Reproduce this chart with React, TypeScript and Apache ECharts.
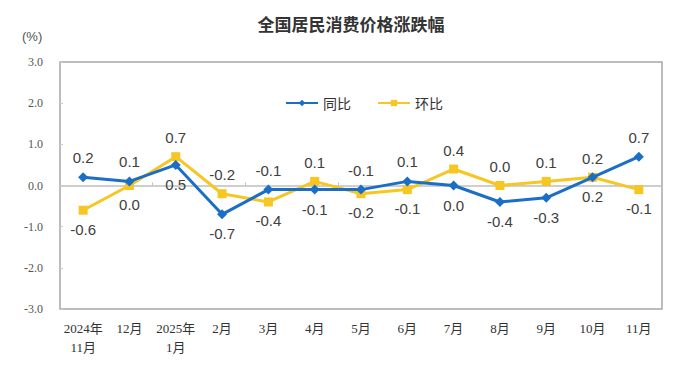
import React, { useEffect, useRef } from "react";
import * as echarts from "echarts";

const categories = ["2024年\n11月", "12月", "2025年\n1月", "2月", "3月", "4月", "5月", "6月", "7月", "8月", "9月", "10月", "11月"];
const yoy = [0.2, 0.1, 0.5, -0.7, -0.1, -0.1, -0.1, 0.1, 0.0, -0.4, -0.3, 0.2, 0.7];
const mom = [-0.6, 0.0, 0.7, -0.2, -0.4, 0.1, -0.2, -0.1, 0.4, 0.0, 0.1, 0.2, -0.1];
const yoyLabelPos = ["top", "top", "bottom", "bottom", "top", "bottom", "top", "top", "bottom", "bottom", "bottom", "bottom", "top"];
const momLabelPos = ["bottom", "bottom", "top", "top", "bottom", "top", "bottom", "bottom", "top", "top", "top", "top", "bottom"];

const BLUE = "#1b6ec6";
const YELLOW = "#f6c623";
const labelStyle = { color: "#404040", fontSize: 15, fontFamily: "Arial, Liberation Sans, sans-serif", distance: 7 };

export default function App() {
  const ref = useRef<HTMLDivElement>(null);
  useEffect(() => {
    const chart = echarts.init(ref.current!, null, { renderer: "svg" });
    const mk = (vals: number[], pos: string[]) =>
      vals.map((v, i) => ({ value: v, label: { position: pos[i] } }));
    chart.setOption({
      animation: false,
      backgroundColor: "#fff",
      title: {
        text: "全国居民消费价格涨跌幅",
        left: 346,
        top: 10,
        textAlign: "center",
        textStyle: { fontSize: 17, fontWeight: "bold", color: "#333", fontFamily: "Noto Sans CJK SC" },
      },
      graphic: [
        { type: "text", left: 22, top: 30, style: { text: "(%)", fill: "#555", font: "13px Liberation Sans, sans-serif" } },
      ],
      legend: {
        top: 91,
        left: 280,
        itemGap: 26,
        itemWidth: 32,
        itemHeight: 8,
        textStyle: { fontSize: 14, color: "#333", fontFamily: "Noto Sans CJK SC" },
        data: ["同比", "环比"],
      },
      grid: {
        left: 60,
        right: 30,
        top: 62,
        bottom: 60,
        show: true,
        borderColor: "#a6a6a6",
        borderWidth: 1.5,
      },
      xAxis: [
        {
          type: "category",
          data: categories,
          position: "bottom",
          axisLine: { show: false, onZero: false },
          axisTick: { show: false },
          axisLabel: {
            color: "#333",
            fontSize: 13,
            fontFamily: "Liberation Serif, Noto Sans CJK SC, serif",
            margin: 10,
            lineHeight: 19,
            interval: 0,
          },
        },
        {
          type: "category",
          data: categories,
          position: "bottom",
          axisLine: { show: true, onZero: true, lineStyle: { color: "#bfbfbf", width: 1.5 } },
          axisTick: { show: true, inside: true, length: 3, lineStyle: { color: "#bfbfbf" } },
          axisLabel: { show: false },
        },
      ],
      yAxis: {
        type: "value",
        min: -3,
        max: 3,
        interval: 1,
        splitLine: { show: false },
        axisLine: { show: false },
        axisTick: { show: true, inside: true, length: 3, lineStyle: { color: "#cccccc" } },
        axisLabel: {
          formatter: (v: number) => v.toFixed(1),
          color: "#555",
          fontSize: 12,
          fontFamily: "Liberation Serif, serif",
          margin: 17,
        },
      },
      series: [
        {
          name: "同比",
          type: "line",
          data: mk(yoy, yoyLabelPos),
          symbol: "diamond",
          symbolSize: 10,
          lineStyle: { color: BLUE, width: 3 },
          itemStyle: { color: BLUE },
          label: { show: true, formatter: (p: any) => Number(p.value).toFixed(1), ...labelStyle },
          z: 3,
        },
        {
          name: "环比",
          type: "line",
          data: mk(mom, momLabelPos),
          symbol: "rect",
          symbolSize: 9,
          lineStyle: { color: YELLOW, width: 3 },
          itemStyle: { color: YELLOW },
          label: { show: true, formatter: (p: any) => Number(p.value).toFixed(1), ...labelStyle },
          z: 2,
        },
      ],
    });
    return () => chart.dispose();
  }, []);
  return <div ref={ref} style={{ width: 692, height: 369, position: "absolute", left: 0, top: 0 }} />;
}
